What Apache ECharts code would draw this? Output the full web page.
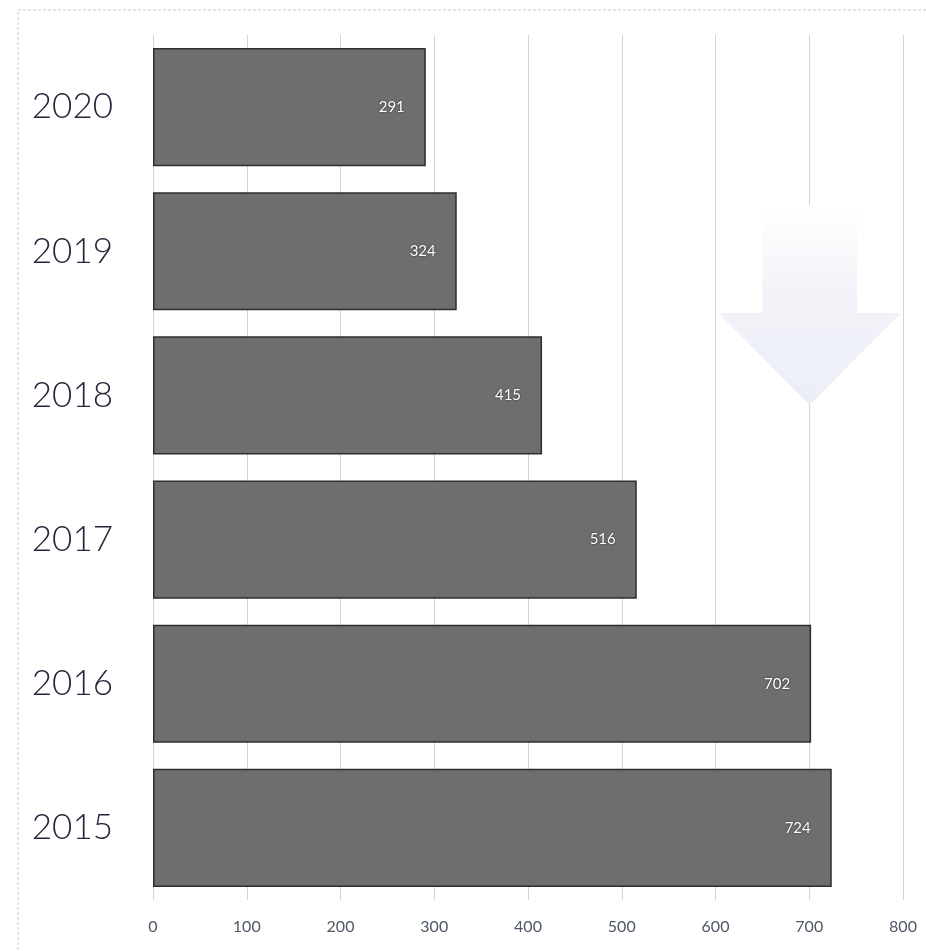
<!DOCTYPE html>
<html>
<head>
<meta charset="utf-8">
<script src="https://cdn.jsdelivr.net/npm/echarts@6/dist/echarts.min.js"></script>
<style>html,body{margin:0;padding:0;background:#fff;}#c{width:926px;height:951px;}</style>
</head>
<body>
<div id="c"></div>
<script>
var categories = ['2015', '2016', '2017', '2018', '2019', '2020'];
var values = [724, 702, 516, 415, 324, 291];
var xTicks = [0, 100, 200, 300, 400, 500, 600, 700, 800];

var chart = echarts.init(document.getElementById('c'));
var option = {
  backgroundColor: '#ffffff',
  animation: false,
  grid: { left: 153, right: 23, top: 35, bottom: 51, containLabel: false },
  xAxis: {
    type: 'value', min: xTicks[0], max: xTicks[xTicks.length - 1], interval: 100,
    axisLine: { show: false }, axisTick: { show: false },
    axisLabel: { margin: 19, fontSize: 16, color: '#4f5866', fontFamily: 'Lato' },
    splitLine: { show: true, lineStyle: { color: '#d4d4d4', width: 1 } }
  },
  yAxis: {
    type: 'category', data: categories,
    axisLine: { show: false }, axisTick: { show: false },
    axisLabel: { margin: 40, fontSize: 35, fontWeight: 300, color: '#23263a', fontFamily: 'Lato' }
  },
  series: [{
    type: 'bar', data: values, barWidth: '82%', z: 3,
    itemStyle: { color: '#706e6c', borderColor: '#2e2e2e', borderWidth: 1.5 },
    label: {
      show: true, position: 'insideRight', distance: 21,
      color: '#ffffff', fontSize: 15, fontFamily: 'Lato',
      textShadowColor: 'rgba(0,0,0,0.7)', textShadowBlur: 2
    }
  }]
};
chart.setOption(option);

// decorative arrow, positioned from axis scale
var xL = chart.convertToPixel({ xAxisIndex: 0 }, 603);
var xR = chart.convertToPixel({ xAxisIndex: 0 }, 798);
var sL = chart.convertToPixel({ xAxisIndex: 0 }, 650);
var sR = chart.convertToPixel({ xAxisIndex: 0 }, 751);
var cx = chart.convertToPixel({ xAxisIndex: 0 }, 700);
var tipY = 405, headY = 313, topY = 205;
chart.setOption({
  graphic: [
    {
      type: 'rect', z: -1, silent: true,
      shape: { x: 18, y: 10, width: 920, height: 950 },
      style: { fill: 'none', stroke: '#c8c8c8', lineWidth: 1, lineDash: [3, 2] }
    },
    {
      type: 'polygon', z: 1, silent: true,
      shape: { points: [[sL, topY], [sR, topY], [sR, headY], [xR, headY], [cx, tipY], [xL, headY], [sL, headY]] },
      style: {
        fill: new echarts.graphic.LinearGradient(0, 0, 0, 1, [
          { offset: 0, color: 'rgba(255,255,255,1)' },
          { offset: 0.45, color: '#f2f3f9' },
          { offset: 1, color: '#eceef6' }
        ])
      }
    }
  ]
});
</script>
</body>
</html>
